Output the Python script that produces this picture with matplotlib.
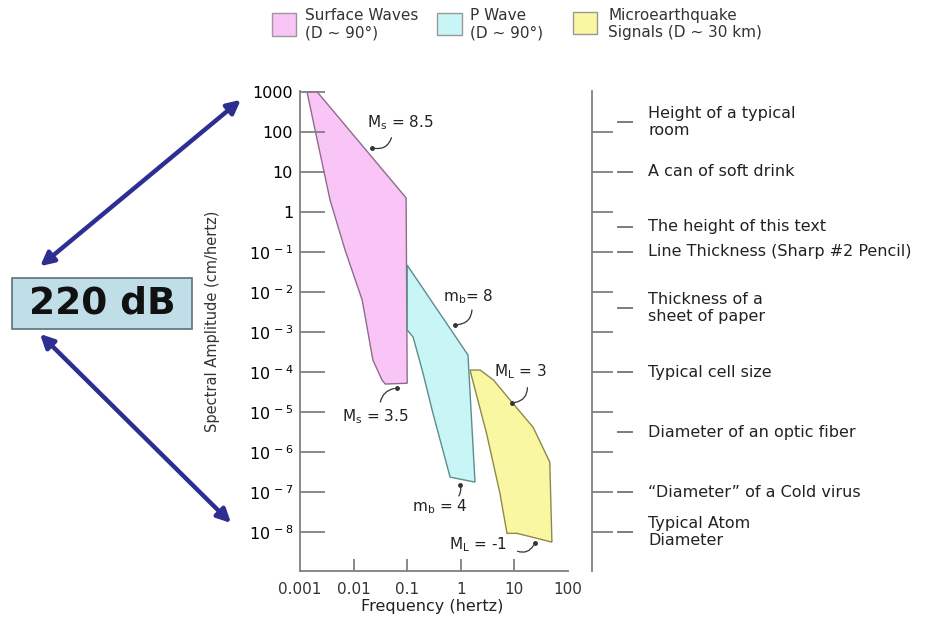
import numpy as np
import matplotlib
matplotlib.use("Agg")
import matplotlib.pyplot as plt
from matplotlib.patches import Rectangle, FancyArrowPatch

plt.rcParams['font.family'] = ['DejaVu Sans']
plt.rcParams['mathtext.fontset'] = 'dejavusans'

# polygon outlines, log10(frequency in Hz) and log10(amplitude in cm/Hz)
surface_logf = [-2.87, -2.68, -1.02, -1.0, -1.41, -1.47, -1.64, -1.84, -2.16, -2.44, -2.70]
surface_loga = [3.0, 3.0, 0.35, -4.28, -4.3, -4.2, -3.7, -2.2, -0.95, 0.3, 1.93]

pwave_logf = [-1.0, 0.134, 0.265, -0.20, -0.35, -0.52, -0.705, -0.89, -1.0]
pwave_loga = [-1.33, -3.575, -6.75, -6.625, -5.875, -5.03, -4.03, -3.125, -2.95]

micro_logf = [0.172, 0.36, 0.61, 0.97, 1.35, 1.66, 1.70, 1.35, 1.05, 0.862, 0.73, 0.48, 0.22]
micro_loga = [-3.95, -3.95, -4.2, -4.78, -5.38, -6.25, -8.25, -8.13, -8.03, -8.03, -7.03, -5.53, -4.2]

legend_labels = ["Surface Waves\n(D ~ 90°)", "P Wave\n(D ~ 90°)",
                 "Microearthquake\nSignals (D ~ 30 km)"]
fill_colors = ["#F9C4F6", "#C8F6F6", "#FAF7A2"]
edge_colors = ["#8C6E8C", "#5E8C8C", "#8C8A4A"]

x_ticks = [1e-3, 1e-2, 1e-1, 1, 10, 100]
x_tick_labels = ["0.001", "0.01", "0.1", "1", "10", "100"]
y_ticks = [10.0 ** k for k in range(3, -9, -1)]
y_tick_labels = ["1000", "100", "10", "1"] + [r"$10^{\,%d}$" % k for k in range(-1, -9, -1)]

# reference scale on the right
ref_labels = ["Height of a typical\nroom", "A can of soft drink", "The height of this text",
              "Line Thickness (Sharp #2 Pencil)", "Thickness of a\nsheet of paper",
              "Typical cell size", "Diameter of an optic fiber",
              "\u201cDiameter\u201d of a Cold virus", "Typical Atom\nDiameter"]
ref_loga = [2.25, 1.0, -0.375, -1.0, -2.4, -4.0, -5.5, -7.0, -8.0]

W, H = 948, 620
fig = plt.figure(figsize=(W / 100, H / 100), dpi=100)


def fx(px):
    return px / W


def fy(py):
    return 1 - py / H


ax = fig.add_axes([fx(300), fy(571), fx(568) - fx(300), fy(91) - fy(571)])
ax.set_xscale('log')
ax.set_yscale('log')
ax.set_xlim(1e-3, 1e2)
ax.set_ylim(10 ** -8.97, 10 ** 3.02)

polys = [(surface_logf, surface_loga), (pwave_logf, pwave_loga), (micro_logf, micro_loga)]
for (lf, la), fc, ec in zip(polys, fill_colors, edge_colors):
    ax.fill(np.power(10.0, lf), np.power(10.0, la), facecolor=fc, edgecolor=ec, lw=1.0)

for s in ['top', 'right']:
    ax.spines[s].set_visible(False)
for s in ['left', 'bottom']:
    ax.spines[s].set_color('#808080')
    ax.spines[s].set_linewidth(1.3)

ax.set_xticks(x_ticks)
ax.set_xticklabels(x_tick_labels)
ax.set_yticks(y_ticks)
ax.set_yticklabels(y_tick_labels)
ax.minorticks_off()
ax.tick_params(axis='y', direction='in', length=18, width=1.3, color='#808080',
               labelsize=11.5, pad=5)
ax.tick_params(axis='x', direction='in', length=9, width=1.3, color='#808080',
               labelsize=11, pad=8, labelcolor='#333333')
for t in (ax.xaxis.get_major_ticks()[0], ax.xaxis.get_major_ticks()[-1]):
    t.tick1line.set_visible(False)

fig.text(fx(213), fy(321), "Spectral Amplitude (cm/hertz)", rotation=90,
         ha='center', va='center', fontsize=10.5, color='#333333')
fig.text(fx(432), fy(607), "Frequency (hertz)", ha='center', va='center',
         fontsize=11.5, color='#222222')

# magnitude annotations: text, text position, leader start, leader end
notes = [
    (r"M$_{\mathregular{s}}$ = 8.5", (-1.13, 2.22), (-1.28, 1.92), (-1.66, 1.6), -0.5),
    (r"m$_{\mathregular{b}}$= 8", (0.13, -2.12), (0.21, -2.38), (-0.11, -2.82), -0.5),
    (r"M$_{\mathregular{L}}$ = 3", (1.12, -4.0), (1.24, -4.32), (0.96, -4.77), -0.5),
    (r"M$_{\mathregular{s}}$ = 3.5", (-1.6, -5.12), (-1.51, -4.82), (-1.19, -4.4), -0.4),
    (r"m$_{\mathregular{b}}$ = 4", (-0.39, -7.37), (-0.07, -7.15), (-0.015, -6.82), 0.3),
    (r"M$_{\mathregular{L}}$ = -1", (0.32, -8.32), (1.01, -8.45), (1.38, -8.27), 0.5),
]
for txt, tp, p0, p1, rad in notes:
    ax.text(10 ** tp[0], 10 ** tp[1], txt, ha='center', va='center', fontsize=11,
            color='#222222')
    ax.annotate("", xy=(10 ** p1[0], 10 ** p1[1]), xytext=(10 ** p0[0], 10 ** p0[1]),
                arrowprops=dict(arrowstyle='-', lw=0.9, color='#333333',
                                connectionstyle="arc3,rad=%s" % rad))
    ax.plot(10 ** p1[0], 10 ** p1[1], 'o', ms=2.5, color='#333333', clip_on=False)

# right-hand reference scale
ax2 = fig.add_axes([fx(592), fy(571), fx(940) - fx(592), fy(91) - fy(571)])
ax2.set_yscale('log')
ax2.set_ylim(ax.get_ylim())
ax2.set_xlim(0, 1)
for s in ['top', 'right', 'bottom']:
    ax2.spines[s].set_visible(False)
ax2.spines['left'].set_color('#808080')
ax2.spines['left'].set_linewidth(1.3)
ax2.set_xticks([])
ax2.set_yticks(y_ticks[1:])
ax2.minorticks_off()
ax2.tick_params(axis='y', direction='in', length=15, width=1.3, color='#808080',
                labelleft=False)
ax2.patch.set_visible(False)
ref_vals = np.power(10.0, ref_loga)
ax2.hlines(ref_vals, 25 / 348, 41 / 348, color='#666666', lw=1.2)
for lab, v in zip(ref_labels, ref_vals):
    ax2.text(56 / 348, v, lab, ha='left', va='center', fontsize=11.5,
             color='#222222', linespacing=1.15)

# legend at the top
legend_boxes = [(272, 13, 24, 23), (437, 13, 25, 22), (573, 12, 24, 22)]
legend_text_x = [305, 470, 608]
for (bx, by, bw, bh), fc, ec, lab, tx in zip(legend_boxes, fill_colors, edge_colors,
                                             legend_labels, legend_text_x):
    fig.add_artist(Rectangle((fx(bx), fy(by + bh)), bw / W, bh / H, facecolor=fc,
                             edgecolor='#999999', lw=1.0, transform=fig.transFigure))
    fig.text(fx(tx), fy(24), lab, ha='left', va='center', fontsize=11,
             color='#333333', linespacing=1.2)

# 220 dB box with arrows
fig.add_artist(Rectangle((fx(12), fy(329)), 180 / W, 51 / H, facecolor='#BFDEE8',
                         edgecolor='#5F6F78', lw=1.2, transform=fig.transFigure))
fig.text(fx(102), fy(304), "220 dB", ha='center', va='center', fontsize=27,
         fontweight='bold', color='#111111')
arrow_color = '#2E2E92'
for (x0, y0), (x1, y1) in [((38, 268), (243, 98)), ((38, 332), (233, 525))]:
    fig.add_artist(FancyArrowPatch((fx(x0), fy(y0)), (fx(x1), fy(y1)),
                                   transform=fig.transFigure, arrowstyle='<|-|>',
                                   mutation_scale=20, lw=3.2, color=arrow_color))

fig.savefig("out.png", dpi=100)
